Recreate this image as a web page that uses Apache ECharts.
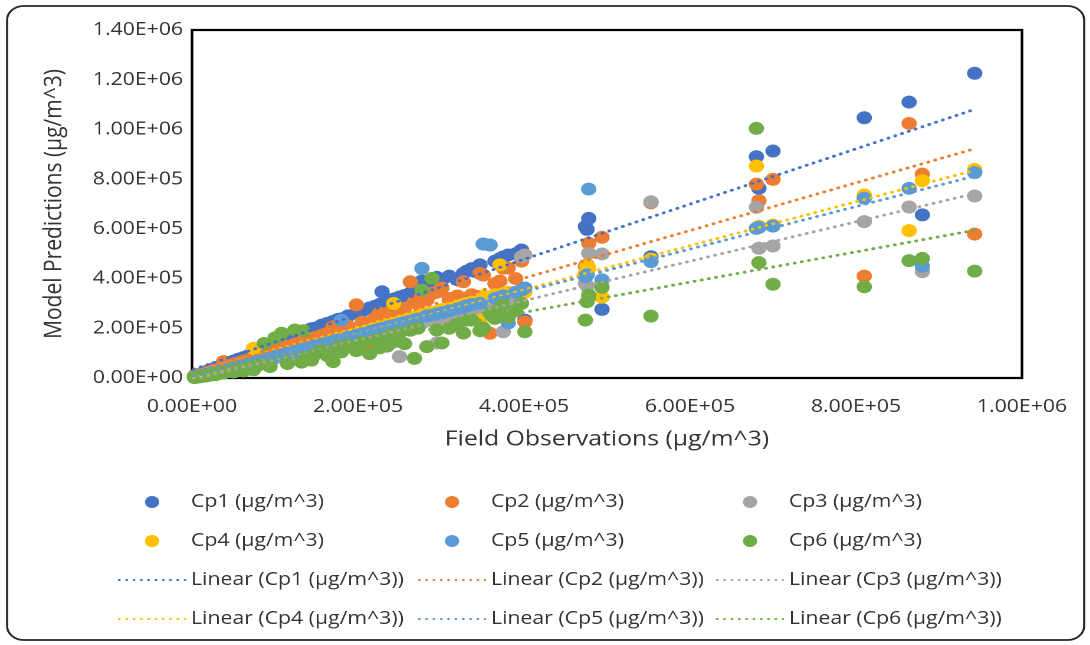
<!DOCTYPE html>
<html>
<head>
<meta charset="utf-8">
<script src="https://cdn.jsdelivr.net/npm/echarts@6/dist/echarts.min.js"></script>
<style>
  html, body { margin: 0; padding: 0; background: #fff; overflow: hidden; }
  /* the chart is laid out on a narrower canvas and widened to the page */
  #chart { width: 924px; height: 645px; transform: scaleX(1.1797); transform-origin: 0 0; }
</style>
</head>
<body>
<div id="chart"></div>
<script>
// Field observations (µg/m^3), shared x values for every model series
const fieldObs = [
  3000, 6000, 10000, 14000, 18000, 23000, 28000, 33000, 38000, 44000,
  50000, 56000, 62000, 68000, 74000, 80000, 87000, 94000, 100000, 108000,
  115000, 124000, 132000, 134000, 140000, 144000, 148000, 156000, 163000, 170000,
  176000, 180000, 188000, 198000, 205000, 214000, 220000, 226000, 229000, 235000,
  239000, 243000, 250000, 256000, 263000, 268000, 272000,
  277000, 283000, 289000, 295000, 301000, 310000, 320000, 327000, 331000, 337000,
  347000, 351000, 359000, 365000, 371000, 375000, 381000, 390000, 397000, 401000,
  474000, 476000, 478000, 494000, 553000, 680000, 683000, 700000, 810000, 864000,
  880000, 943000
];

// Model predictions (µg/m^3), one array per model, aligned with fieldObs
const cp1 = [
  8000, 12000, 16000, 22000, 27000, 33000, 40000, 45000, 52000, 60000,
  68000, 76000, 82000, 90000, 98000, 105000, 130000, 122000, 145000, 152000,
  160000, 172000, 180000, 185000, 192000, 198000, 200000, 212000, 220000, 228000,
  236000, 238000, 250000, 262000, 270000, 282000, 288000, 296000, 347000, 305000,
  312000, 318000, 326000, 332000, 341000, 348000, 352000,
  390000, 380000, 395000, 405000, 394000, 410000, 395000, 421000, 430000, 440000,
  455000, 539000, 535000, 470000, 480000, 487000, 495000, 500000, 515000, 233000,
  609000, 598000, 642000, 276000, 488000, 890000, 763000, 913000, 1047000, 1110000,
  656000, 1226000
];
const cp2 = [
  6000, 9000, 14000, 18000, 22000, 27000, 33000, 38000, 66000, 50000,
  56000, 62000, 68000, 74000, 82000, 88000, 96000, 104000, 112000, 120000,
  128000, 137000, 145000, 150000, 155000, 160000, 163000, 172000, 180000, 206000,
  195000, 198000, 208000, 294000, 225000, 113000, 240000, 261000, 250000, 258000,
  267000, 267000, 274000, 280000, 387000, 307000, 298000,
  330000, 314000, 340000, 345000, 362000, 320000, 330000, 387000, 322000, 335000,
  421000, 414000, 180000, 380000, 390000, 442000, 442000, 400000, 470000, 226000,
  450000, 455000, 542000, 566000, 705000, 780000, 713000, 799000, 410000, 1024000,
  820000, 579000
];
const cp3 = [
  2000, 5000, 8000, 11000, 14000, 18000, 22000, 26000, 30000, 35000,
  40000, 45000, 49000, 54000, 59000, 64000, 69000, 75000, 80000, 86000,
  92000, 99000, 105000, 108000, 112000, 115000, 118000, 125000, 130000, 136000,
  141000, 144000, 150000, 158000, 164000, 171000, 176000, 181000, 183000, 188000,
  191000, 194000, 86000, 205000, 210000, 214000, 218000,
  220000, 230000, 232000, 141000, 240000, 247000, 255000, 260000, 262000, 268000,
  275000, 280000, 285000, 290000, 295000, 186000, 300000, 310000, 488000, 495000,
  381000, 370000, 502000, 499000, 709000, 687000, 522000, 531000, 629000, 688000,
  428000, 732000
];
const cp4 = [
  3000, 6000, 9000, 13000, 17000, 21000, 26000, 30000, 35000, 40000,
  46000, 51000, 57000, 62000, 119000, 73000, 80000, 86000, 92000, 99000,
  105000, 114000, 121000, 124000, 128000, 132000, 136000, 143000, 150000, 156000,
  162000, 165000, 172000, 182000, 188000, 196000, 202000, 208000, 210000, 216000,
  220000, 300000, 230000, 235000, 242000, 246000, 250000,
  255000, 260000, 262000, 268000, 275000, 280000, 290000, 295000, 300000, 305000,
  233000, 330000, 325000, 335000, 455000, 340000, 345000, 345000, 350000, 345000,
  420000, 452000, 441000, 325000, 478000, 853000, 610000, 615000, 736000, 593000,
  794000, 839000
];
const cp5 = [
  3000, 5000, 9000, 12000, 16000, 20000, 24000, 29000, 33000, 38000,
  44000, 49000, 54000, 59000, 64000, 70000, 76000, 82000, 87000, 94000,
  100000, 108000, 115000, 117000, 122000, 125000, 129000, 136000, 142000, 148000,
  153000, 233000, 164000, 172000, 178000, 186000, 191000, 197000, 199000, 204000,
  208000, 211000, 218000, 223000, 229000, 233000, 237000,
  441000, 250000, 252000, 258000, 262000, 270000, 278000, 285000, 290000, 295000,
  300000, 539000, 535000, 320000, 325000, 330000, 221000, 345000, 354000, 362000,
  408000, 415000, 760000, 395000, 468000, 602000, 606000, 611000, 723000, 763000,
  450000, 826000
];
const cp6 = [
  2000, 3000, 5000, 7000, 9000, 12000, 13000, 18000, 20000, 26000,
  24000, 35000, 28000, 44000, 33000, 52000, 139000, 46000, 161000, 180000,
  58000, 193000, 64000, 190000, 82000, 72000, 95000, 112000, 90000, 66000,
  125000, 105000, 133000, 110000, 145000, 98000, 152000, 121000, 160000, 128000,
  172000, 145000, 182000, 138000, 192000, 79000, 200000,
  354000, 126000, 401000, 193000, 141000, 200000, 220000, 181000, 233000, 233000,
  190000, 201000, 261000, 240000, 280000, 294000, 245000, 270000, 300000, 186000,
  233000, 307000, 334000, 365000, 249000, 1004000, 464000, 377000, 367000, 472000,
  481000, 430000
];

// Linear trendline coefficients per model: y = slope * x + intercept
const trendSlope = [1.111, 0.959, 0.793, 0.885, 0.856, 0.608];
const trendIntercept = [33000, 18000, -6000, 1000, 5000, 21000];
const trendRange = [2000, 943000];

const seriesNames = ['Cp1 (µg/m^3)', 'Cp2 (µg/m^3)', 'Cp3 (µg/m^3)', 'Cp4 (µg/m^3)', 'Cp5 (µg/m^3)', 'Cp6 (µg/m^3)'];
const seriesColors = ['#4472C4', '#ED7D31', '#A5A5A5', '#FFC000', '#5B9BD5', '#70AD47'];

const xTickLabels = ['0.00E+00', '2.00E+05', '4.00E+05', '6.00E+05', '8.00E+05', '1.00E+06'];
const yTickLabels = ['0.00E+00', '2.00E+05', '4.00E+05', '6.00E+05', '8.00E+05', '1.00E+06', '1.20E+06', '1.40E+06'];

const predictions = [cp1, cp2, cp3, cp4, cp5, cp6];
const FONT = '"Open Sans", "Liberation Sans", sans-serif';
const TEXT = '#333333';

const scatterSeries = predictions.map((arr, k) => ({
  name: seriesNames[k],
  type: 'scatter',
  data: fieldObs.map((x, i) => [x, arr[i]]),
  symbol: 'circle',
  symbolSize: 13,
  itemStyle: { color: seriesColors[k], opacity: 1 },
  z: 2
}));

const trendNames = seriesNames.map(n => 'Linear (' + n + ')');
const trendSeries = trendSlope.map((m, k) => ({
  name: trendNames[k],
  type: 'line',
  data: trendRange.map(x => [x, m * x + trendIntercept[k]]),
  symbol: 'none',
  silent: true,
  itemStyle: { color: seriesColors[k] },
  lineStyle: { color: seriesColors[k], width: 2.8, type: [0.5, 5.7], cap: 'round' },
  z: 3
}));

// one legend per column; trendline entries show only their dotted line
function legendColumn(left, idx) {
  return {
    orient: 'vertical',
    left: left,
    top: 487,
    itemWidth: 56,
    itemHeight: 12,
    itemGap: 19,
    data: [
      seriesNames[idx],
      seriesNames[idx + 3],
      { name: trendNames[idx], itemStyle: { opacity: 0 } },
      { name: trendNames[idx + 3], itemStyle: { opacity: 0 } }
    ],
    textStyle: { fontFamily: FONT, fontSize: 18, color: TEXT, lineHeight: 20 }
  };
}

const chart = echarts.init(document.getElementById('chart'), null, { renderer: 'canvas', devicePixelRatio: 2 });
chart.setOption({
  animation: false,
  backgroundColor: '#ffffff',
  graphic: [{
    type: 'rect',
    shape: { x: 6, y: 6, width: 913, height: 634, r: 14 },
    style: { fill: 'none', stroke: '#262626', lineWidth: 1.8 },
    silent: true,
    z: 0
  }],
  grid: {
    left: 162.75, right: 57.7, top: 30, bottom: 267,
    show: true, borderColor: '#000000', borderWidth: 2.2, backgroundColor: 'transparent'
  },
  legend: [legendColumn(94.9, 0), legendColumn(349.2, 1), legendColumn(601.8, 2)],
  xAxis: {
    type: 'value', min: 0, max: 1000000, interval: 200000,
    name: 'Field Observations (µg/m^3)',
    nameLocation: 'middle', nameGap: 51,
    nameTextStyle: { fontFamily: FONT, fontSize: 21, color: TEXT },
    axisLine: { show: false }, axisTick: { show: false }, splitLine: { show: false },
    axisLabel: {
      margin: 20, fontFamily: FONT, fontSize: 18, color: TEXT,
      formatter: v => xTickLabels[Math.round(v / 200000)]
    }
  },
  yAxis: {
    type: 'value', min: 0, max: 1400000, interval: 200000,
    name: 'Model Predictions (µg/m^3)',
    nameLocation: 'middle', nameGap: 106,
    nameTextStyle: { fontFamily: FONT, fontSize: 21, color: TEXT },
    axisLine: { show: false }, axisTick: { show: false }, splitLine: { show: false },
    axisLabel: {
      margin: 7.6, fontFamily: FONT, fontSize: 18, color: TEXT,
      formatter: v => yTickLabels[Math.round(v / 200000)]
    }
  },
  series: scatterSeries.concat(trendSeries)
});
</script>
</body>
</html>
